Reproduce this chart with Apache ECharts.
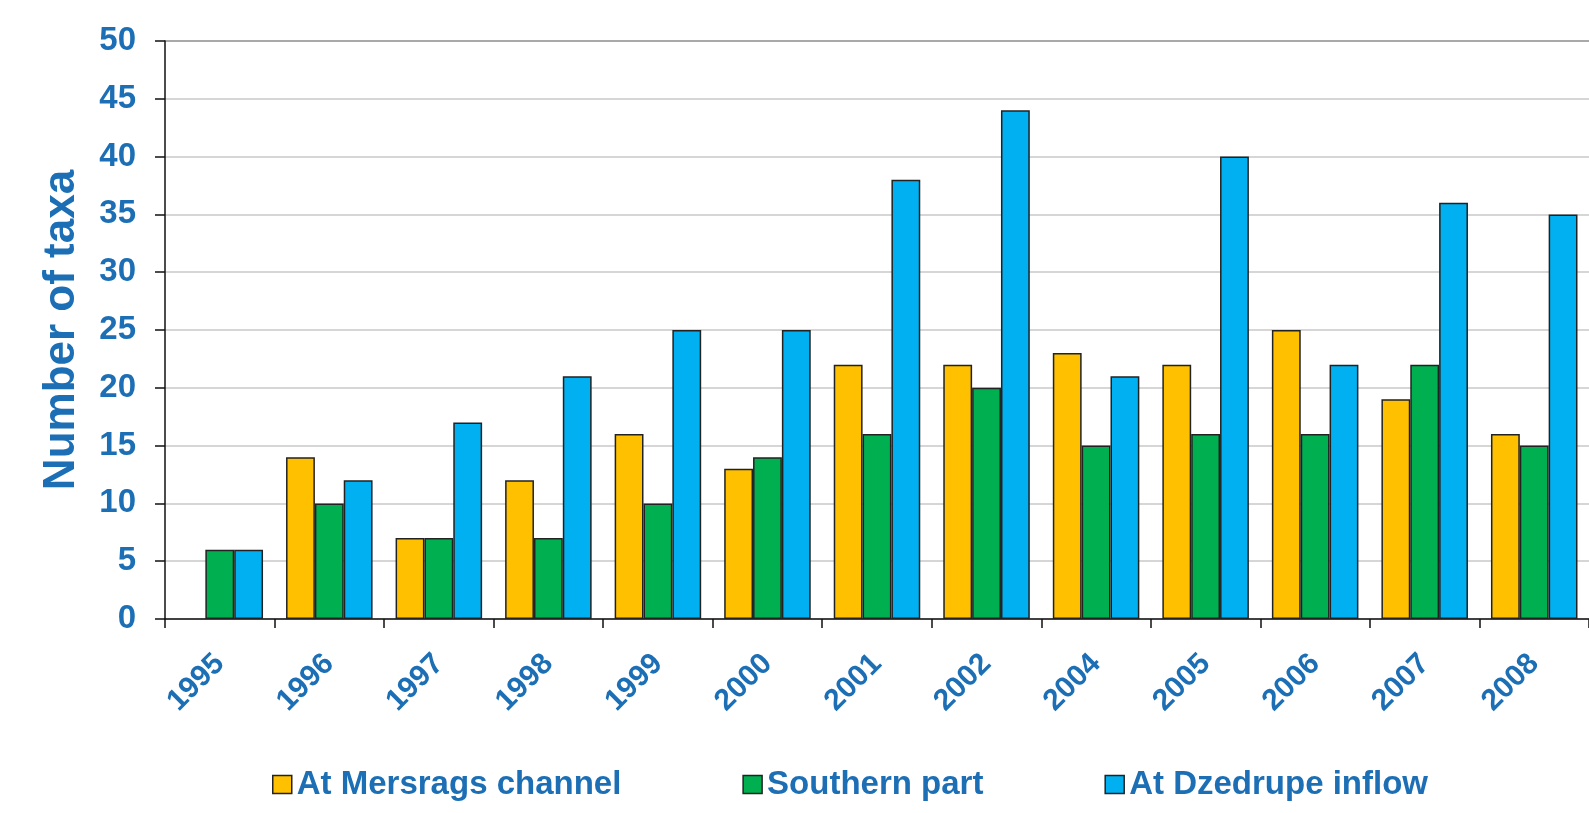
<!DOCTYPE html>
<html>
<head>
<meta charset="utf-8">
<title>Number of taxa</title>
<script src="https://cdn.jsdelivr.net/npm/echarts@6/dist/echarts.min.js"></script>
<style>
  html, body { margin: 0; padding: 0; background: #ffffff; }
  #chart { width: 1589px; height: 813px; }
</style>
</head>
<body>
<div id="chart"></div>
<script>
// Sampling years (no survey in 2003)
const years = ['1995', '1996', '1997', '1998', '1999', '2000', '2001', '2002', '2004', '2005', '2006', '2007', '2008'];

// Number of taxa per site
const mersragsChannel = [null, 14, 7, 12, 16, 13, 22, 22, 23, 22, 25, 19, 16];
const southernPart    = [6, 10, 7, 7, 10, 14, 16, 20, 15, 16, 16, 22, 15];
const dzedrupeInflow  = [6, 12, 17, 21, 25, 25, 38, 44, 21, 40, 22, 36, 35];

const seriesNames = ['At Mersrags channel', 'Southern part', 'At Dzedrupe inflow'];
const yAxisTitle = 'Number of taxa';

const textBlue = '#1c6fb5';
const fontFamily = '"Liberation Sans", Arial, sans-serif';

// gridline colours: light grey, darker line on top of the plot area
const gridColors = [];
for (let i = 0; i < 10; i++) gridColors.push('#c9c9c9');
gridColors.push('#8c8c8c');

const barBorder = { borderColor: '#222222', borderWidth: 1.5 };

function barSeries(name, data, color) {
  return {
    name: name,
    type: 'bar',
    data: data,
    barGap: '0%',
    barCategoryGap: '21%',
    itemStyle: Object.assign({ color: color }, barBorder)
  };
}

const chart = echarts.init(document.getElementById('chart'), null, { renderer: 'canvas' });

chart.setOption({
  animation: false,
  backgroundColor: '#ffffff',
  textStyle: { fontFamily: fontFamily },
  grid: { left: 165, top: 41, width: 1426, height: 578, containLabel: false },
  legend: {
    left: 267,
    top: 763,
    itemWidth: 19,
    itemHeight: 18,
    itemGap: 121,
    icon: 'rect',
    itemStyle: { borderColor: '#222222', borderWidth: 1.5 },
    textStyle: { color: textBlue, fontSize: 33, fontWeight: 'bold', fontFamily: fontFamily },
    data: seriesNames
  },
  xAxis: {
    type: 'category',
    data: years,
    boundaryGap: true,
    axisLine: { show: true, lineStyle: { color: '#111111', width: 1.5 } },
    axisTick: { show: true, alignWithLabel: false, length: 9, lineStyle: { color: '#111111', width: 1.5 } },
    axisLabel: {
      rotate: 45,
      margin: 40,
      color: textBlue,
      fontSize: 30,
      fontWeight: 'bold',
      fontFamily: fontFamily,
      interval: 0
    },
    splitLine: { show: false }
  },
  yAxis: {
    type: 'value',
    min: 0,
    max: 50,
    interval: 5,
    name: yAxisTitle,
    nameLocation: 'middle',
    nameRotate: 90,
    nameGap: 81,
    nameTextStyle: { color: textBlue, fontSize: 44, fontWeight: 'bold', fontFamily: fontFamily },
    axisLine: { show: true, lineStyle: { color: '#111111', width: 1.5 } },
    axisTick: { show: true, inside: false, length: 10, lineStyle: { color: '#111111', width: 1.5 } },
    axisLabel: {
      margin: 29,
      color: textBlue,
      fontSize: 33,
      fontWeight: 'bold',
      fontFamily: fontFamily
    },
    splitLine: { show: true, lineStyle: { color: gridColors, width: 1.5 } }
  },
  series: [
    barSeries(seriesNames[0], mersragsChannel, '#ffc000'),
    barSeries(seriesNames[1], southernPart, '#00b050'),
    barSeries(seriesNames[2], dzedrupeInflow, '#00b0f0')
  ]
});
</script>
</body>
</html>
